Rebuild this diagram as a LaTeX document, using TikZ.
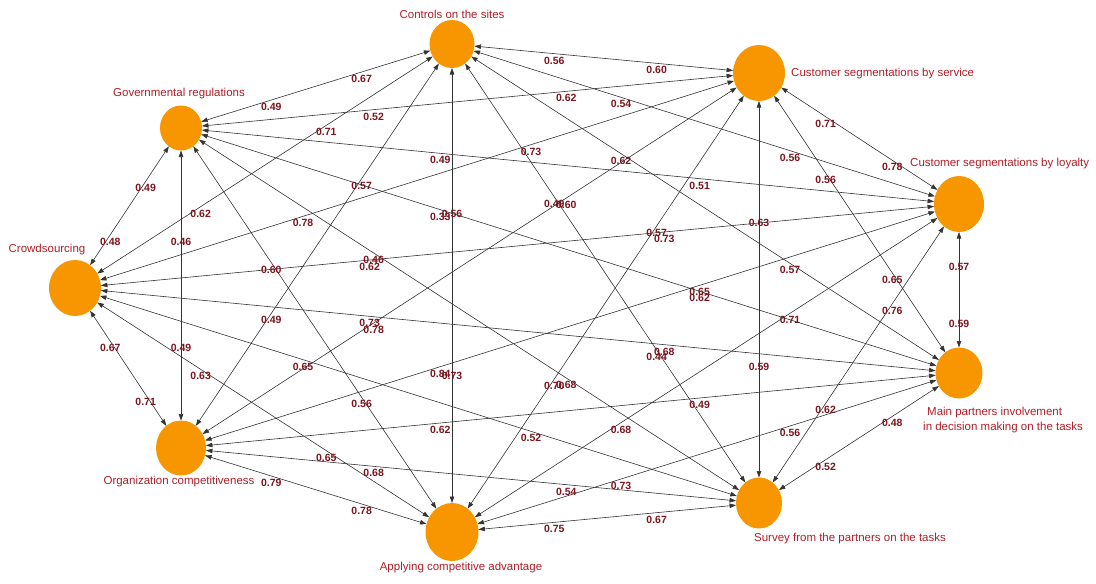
\documentclass[tikz,border=0pt]{standalone}
\usepackage{fontspec}
\setmainfont{Liberation Sans}
\usetikzlibrary{arrows.meta,shapes.geometric,calc}
\definecolor{nodeorange}{RGB}{247,150,0}
\definecolor{labred}{RGB}{175,30,40}
\definecolor{wred}{RGB}{125,20,30}
\newcommand\pairedge[4]{%
  \draw[edge] (#1) -- (#2);
  \node[wlab] (l#1#2a) at ($(#1.center)!0.3333!(#2.center)$) {#3};
  \node[wlab] (l#1#2b) at ($(#1.center)!0.6667!(#2.center)$) {#4};}
\begin{document}
\begin{tikzpicture}[x=1pt,y=-1pt,
  vtx/.style={ellipse,fill=nodeorange,draw=none,inner sep=0pt,outer sep=0pt},
  vlab/.style={text=labred,font=\fontsize{11.5}{15}\selectfont,inner sep=0pt},
  wlab/.style={text=wred,font=\fontsize{10.5}{12}\selectfont\bfseries,inner sep=0pt,yshift=-7pt},
  edge/.style={draw=black!80,line width=0.6pt,{Triangle[length=6.5pt,width=4.5pt]}-{Triangle[length=6.5pt,width=4.5pt]}}
]
\useasboundingbox (0,0) rectangle (1096,584);
% vertices
\node[vtx,minimum width=45pt,minimum height=48pt] (C) at (452,44) {};
\node[vtx,minimum width=52pt,minimum height=56pt] (S) at (759,73) {};
\node[vtx,minimum width=42pt,minimum height=45pt] (G) at (181,128) {};
\node[vtx,minimum width=50pt,minimum height=56pt] (L) at (959,204) {};
\node[vtx,minimum width=52pt,minimum height=56pt] (W) at (75,288) {};
\node[vtx,minimum width=47pt,minimum height=51pt] (M) at (959,373) {};
\node[vtx,minimum width=50pt,minimum height=55pt] (O) at (181,448) {};
\node[vtx,minimum width=46pt,minimum height=51pt] (V) at (759,503) {};
\node[vtx,minimum width=53pt,minimum height=58pt] (A) at (452,532) {};
% vertex labels
\node[vlab] (Ct) at (452,14) {Controls on the sites};
\node[vlab,anchor=west] (St) at (791,74) {Customer segmentations by service};
\node[vlab] (Gt) at (179,94) {Governmental regulations};
\node[vlab,anchor=west] (Lt) at (910,164) {Customer segmentations by loyalty};
\node[vlab] (Wt) at (47,250) {Crowdsourcing};
\node[vlab,anchor=west,align=left] (Mt) at (923,420) {\hspace*{4pt}Main partners involvement\\in decision making on the tasks};
\node[vlab] (Ot) at (179,482) {Organization competitiveness};
\node[vlab] (Vt) at (850,539) {Survey from the partners on the tasks};
\node[vlab] (At) at (461,568) {Applying competitive advantage};
% edges
\pairedge{C}{S}{0.56}{0.60}
\pairedge{C}{L}{0.54}{0.56}
\pairedge{C}{M}{0.62}{0.57}
\pairedge{C}{V}{0.49}{0.44}
\pairedge{C}{A}{0.56}{0.73}
\pairedge{C}{O}{0.57}{0.49}
\pairedge{C}{W}{0.71}{0.62}
\pairedge{C}{G}{0.67}{0.49}
\pairedge{S}{L}{0.71}{0.78}
\pairedge{S}{M}{0.56}{0.65}
\pairedge{S}{V}{0.63}{0.59}
\pairedge{S}{A}{0.57}{0.70}
\pairedge{S}{O}{0.60}{0.78}
\pairedge{S}{W}{0.73}{0.78}
\pairedge{S}{G}{0.62}{0.52}
\pairedge{L}{M}{0.57}{0.59}
\pairedge{L}{V}{0.76}{0.62}
\pairedge{L}{A}{0.71}{0.68}
\pairedge{L}{O}{0.65}{0.84}
\pairedge{L}{W}{0.73}{0.62}
\pairedge{L}{G}{0.51}{0.49}
\pairedge{M}{V}{0.48}{0.52}
\pairedge{M}{A}{0.56}{0.73}
\pairedge{M}{O}{0.49}{0.62}
\pairedge{M}{W}{0.68}{0.73}
\pairedge{M}{G}{0.62}{0.33}
\pairedge{V}{A}{0.67}{0.75}
\pairedge{V}{O}{0.54}{0.68}
\pairedge{V}{W}{0.52}{0.65}
\pairedge{V}{G}{0.68}{0.46}
\pairedge{A}{O}{0.78}{0.79}
\pairedge{A}{W}{0.65}{0.63}
\pairedge{A}{G}{0.56}{0.60}
\pairedge{O}{W}{0.71}{0.67}
\pairedge{O}{G}{0.49}{0.46}
\pairedge{W}{G}{0.48}{0.49}
\end{tikzpicture}
\end{document}
